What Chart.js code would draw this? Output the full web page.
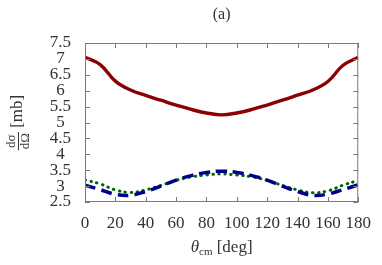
<!DOCTYPE html>
<html>
<head>
<meta charset="utf-8">
<script src="https://cdn.jsdelivr.net/npm/chart.js"></script>
<style>
  html, body { margin: 0; padding: 0; background: #fff; }
  #wrap { width: 382px; height: 265px; }
</style>
</head>
<body>
<div id="wrap"><canvas id="c"></canvas></div>
<script>
// angles in degrees (centre-of-mass frame)
const angles = [0, 10, 20, 30, 40, 50, 60, 70, 80, 90, 100, 110, 120, 130, 140, 150, 160, 170, 180];

// dsigma/dOmega [mb]
const upperCurve = [7.05, 6.82, 6.3, 6.02, 5.85, 5.7, 5.55, 5.41, 5.3, 5.24, 5.3, 5.41, 5.55, 5.7, 5.86, 6.02, 6.29, 6.8, 7.05];
const dashedCurve = [3.03, 2.89, 2.74, 2.71, 2.83, 3.0, 3.19, 3.33, 3.43, 3.47, 3.43, 3.33, 3.19, 3.0, 2.83, 2.71, 2.75, 2.89, 3.04];
const dottedCurve = [3.19, 3.07, 2.88, 2.8, 2.88, 3.02, 3.18, 3.29, 3.35, 3.38, 3.35, 3.29, 3.18, 3.02, 2.88, 2.79, 2.85, 3.03, 3.18];

const xTicks = [0, 20, 40, 60, 80, 100, 120, 140, 160, 180];
const yTicks = [2.5, 3, 3.5, 4, 4.5, 5, 5.5, 6, 6.5, 7, 7.5];

const SERIF = '"Liberation Serif", "DejaVu Serif", serif';
const FRAME = '#7a7a7a';

const toPoints = vals => vals.map((v, i) => ({ x: angles[i], y: v }));

// frame, inward ticks, panel label and axis titles
const decorations = {
  id: 'decorations',
  afterDraw(chart) {
    const { ctx, chartArea: a, scales } = chart;
    ctx.save();
    ctx.strokeStyle = FRAME;
    ctx.lineWidth = 1;
    ctx.strokeRect(a.left + 0.5, a.top + 0.5, a.right - a.left - 1, a.bottom - a.top - 1);
    ctx.beginPath();
    xTicks.forEach(t => {
      const px = Math.round(scales.x.getPixelForValue(t)) + 0.5;
      ctx.moveTo(px, a.bottom); ctx.lineTo(px, a.bottom - 5);
      ctx.moveTo(px, a.top); ctx.lineTo(px, a.top + 5);
    });
    yTicks.forEach(t => {
      const py = Math.round(scales.y.getPixelForValue(t)) + 0.5;
      ctx.moveTo(a.left, py); ctx.lineTo(a.left + 5, py);
      ctx.moveTo(a.right, py); ctx.lineTo(a.right - 5, py);
    });
    ctx.stroke();

    ctx.fillStyle = '#333';
    ctx.textBaseline = 'middle';
    ctx.textAlign = 'center';
    const cx = (a.left + a.right) / 2;

    // panel label
    ctx.font = '16px ' + SERIF;
    ctx.fillText('(a)', cx, 15);

    // x title: theta_cm [deg]
    ctx.textAlign = 'left';
    const yT = 248;
    ctx.font = 'italic 17px ' + SERIF;
    const wTh = ctx.measureText('θ').width;
    ctx.font = '11px ' + SERIF;
    const wCm = ctx.measureText('cm').width;
    ctx.font = '17px ' + SERIF;
    const wDeg = ctx.measureText(' [deg]').width;
    let x0 = cx - (wTh + wCm + wDeg) / 2;
    ctx.font = 'italic 17px ' + SERIF;
    ctx.fillText('θ', x0, yT);
    ctx.font = '11px ' + SERIF;
    ctx.fillText('cm', x0 + wTh, yT + 4);
    ctx.font = '17px ' + SERIF;
    ctx.fillText(' [deg]', x0 + wTh + wCm, yT);

    // y title: dsigma/dOmega [mb], rotated
    ctx.translate(18, (a.top + a.bottom) / 2);
    ctx.rotate(-Math.PI / 2);
    ctx.font = '13px ' + SERIF;
    const wNum = ctx.measureText('dσ').width;
    const wDen = ctx.measureText('dΩ').width;
    const wFrac = Math.max(wNum, wDen) + 2;
    ctx.font = '17px ' + SERIF;
    const wMb = ctx.measureText(' [mb]').width;
    const start = -(wFrac + wMb) / 2;
    ctx.textAlign = 'center';
    ctx.font = '13px ' + SERIF;
    ctx.fillText('dσ', start + wFrac / 2, -6);
    ctx.fillText('dΩ', start + wFrac / 2, 8);
    ctx.beginPath();
    ctx.strokeStyle = '#333';
    ctx.moveTo(start, 0.5); ctx.lineTo(start + wFrac, 0.5);
    ctx.stroke();
    ctx.textAlign = 'left';
    ctx.font = '17px ' + SERIF;
    ctx.fillText(' [mb]', start + wFrac, 0);
    ctx.restore();
  }
};

new Chart(document.getElementById('c'), {
  type: 'line',
  data: {
    datasets: [
      { data: toPoints(upperCurve), borderColor: '#8b0000', borderWidth: 3.4 },
      { data: toPoints(dashedCurve), borderColor: '#00008b', borderWidth: 3.5, borderDash: [11, 6] },
      { data: toPoints(dottedCurve), borderColor: '#006400', borderWidth: 3, borderDash: [0.5, 5.5], borderCapStyle: 'round' }
    ]
  },
  options: {
    responsive: true,
    maintainAspectRatio: false,
    animation: false,
    events: [],
    layout: { padding: { top: 43, right: 19, left: 0, bottom: 0 } },
    elements: {
      point: { radius: 0 },
      line: { tension: 0.4, fill: false }
    },
    plugins: { legend: { display: false }, tooltip: { enabled: false } },
    scales: {
      x: {
        type: 'linear', min: 0, max: 180,
        afterBuildTicks: s => { s.ticks = xTicks.map(v => ({ value: v })); },
        afterFit: s => { s.height = 63; },
        grid: { display: false, drawTicks: false },
        border: { display: false },
        ticks: { color: '#333', font: { family: SERIF, size: 17 }, padding: 11, maxRotation: 0, autoSkip: false, callback: v => String(v) }
      },
      y: {
        type: 'linear', min: 2.5, max: 7.5,
        afterBuildTicks: s => { s.ticks = yTicks.map(v => ({ value: v })); },
        afterFit: s => { s.width = 85; },
        grid: { display: false, drawTicks: false },
        border: { display: false },
        ticks: { color: '#333', font: { family: SERIF, size: 17 }, padding: 14, crossAlign: 'center', autoSkip: false, callback: v => String(v) }
      }
    }
  },
  plugins: [decorations]
});
</script>
</body>
</html>
